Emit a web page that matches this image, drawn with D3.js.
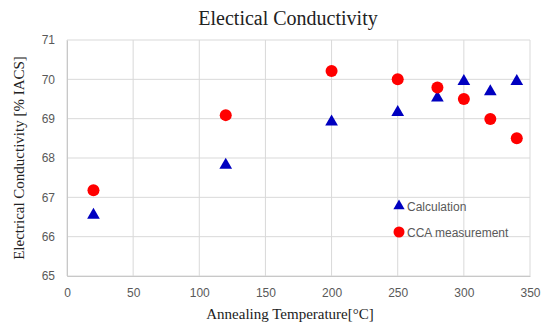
<!DOCTYPE html>
<html>
<head>
<meta charset="utf-8">
<script src="https://cdn.jsdelivr.net/npm/d3@7"></script>
<style>
  body { margin: 0; background: #fff; }
  .tick text { font-family: "Liberation Sans", Arial, sans-serif; font-size: 12px; fill: #595959; }
</style>
</head>
<body>
<div id="chart"></div>
<script>
// annealing temperatures (x) and the two series
var temps = [20, 120, 200, 250, 280, 300, 320, 340];
var calcValues = [66.55, 67.82, 68.92, 69.16, 69.53, 69.95, 69.69, 69.95];
var ccaValues = [67.18, 69.09, 70.21, 70.0, 69.79, 69.5, 68.99, 68.5];
var xTicks = [0, 50, 100, 150, 200, 250, 300, 350];
var yTicks = [65, 66, 67, 68, 69, 70, 71];
var seriesNames = ["Calculation", "CCA measurement"];

var width = 550, height = 328;
var margin = {top: 40, right: 20, bottom: 52, left: 67};
var w = 530 - margin.left, h = 276 - margin.top;

var svg = d3.select("#chart").append("svg")
    .attr("width", width)
    .attr("height", height);

var g = svg.append("g")
    .attr("transform", "translate(" + margin.left + "," + margin.top + ")");

var x = d3.scaleLinear().domain([0, 350]).range([0, w]);
var y = d3.scaleLinear().domain([65, 71]).range([h, 0]);

// grid lines
g.append("g").selectAll("line.vg")
    .data(xTicks)
    .enter().append("line")
    .attr("x1", function(d) { return x(d); })
    .attr("x2", function(d) { return x(d); })
    .attr("y1", 0).attr("y2", h)
    .style("stroke", "#d9d9d9").style("stroke-width", 1);

g.append("g").selectAll("line.hg")
    .data(yTicks)
    .enter().append("line")
    .attr("x1", 0).attr("x2", w)
    .attr("y1", function(d) { return y(d); })
    .attr("y2", function(d) { return y(d); })
    .style("stroke", "#d9d9d9").style("stroke-width", 1);

// axes (labels only)
var xAxis = d3.axisBottom(x).tickValues(xTicks).tickSize(0).tickPadding(12);
var yAxis = d3.axisLeft(y).tickValues(yTicks).tickFormat(d3.format("d")).tickSize(0).tickPadding(12);

g.append("g").attr("class", "x-axis")
    .attr("transform", "translate(0," + h + ")")
    .call(xAxis)
    .call(function(s) { s.select(".domain").style("stroke", "#c8c8c8"); });

g.append("g").attr("class", "y-axis")
    .call(yAxis)
    .call(function(s) { s.select(".domain").style("stroke", "#c8c8c8"); });

// points
var tri = d3.symbol().type(d3.symbolTriangle).size(70);

g.selectAll("path.calc")
    .data(temps)
    .enter().append("path")
    .attr("class", "calc")
    .attr("d", tri)
    .attr("transform", function(d, i) { return "translate(" + x(d) + "," + y(calcValues[i]) + ")"; })
    .style("fill", "#0000c0");

g.selectAll("circle.cca")
    .data(temps)
    .enter().append("circle")
    .attr("class", "cca")
    .attr("r", 6)
    .attr("cx", function(d) { return x(d); })
    .attr("cy", function(d, i) { return y(ccaValues[i]); })
    .style("fill", "#ff0000");

// legend
var legend = g.append("g").attr("transform", "translate(" + (399 - margin.left) + "," + (206 - margin.top) + ")");
legend.append("path").attr("d", d3.symbol().type(d3.symbolTriangle).size(55)).style("fill", "#0000c0");
legend.append("circle").attr("cy", 26).attr("r", 5.5).style("fill", "#ff0000");
legend.selectAll("text")
    .data(seriesNames)
    .enter().append("text")
    .attr("x", 8)
    .attr("y", function(d, i) { return i * 26 + 4.5; })
    .style("font-family", "'Liberation Sans', Arial, sans-serif")
    .style("font-size", "12px")
    .style("fill", "#595959")
    .text(function(d) { return d; });

// title and axis labels
svg.append("text")
    .attr("x", 288).attr("y", 25)
    .attr("text-anchor", "middle")
    .style("font-family", "'Liberation Serif', 'Times New Roman', serif")
    .style("font-size", "20px")
    .style("fill", "#222")
    .text("Electical Conductivity");

svg.append("text")
    .attr("x", 290).attr("y", 319)
    .attr("text-anchor", "middle")
    .style("font-family", "'Liberation Serif', 'Times New Roman', serif")
    .style("font-size", "15px")
    .style("fill", "#222")
    .text("Annealing Temperature[\u00B0C]");

svg.append("text")
    .attr("transform", "translate(24,158) rotate(-90)")
    .attr("text-anchor", "middle")
    .style("font-family", "'Liberation Serif', 'Times New Roman', serif")
    .style("font-size", "15px")
    .style("fill", "#222")
    .text("Electrical Conductivity [% IACS]");
</script>
</body>
</html>
